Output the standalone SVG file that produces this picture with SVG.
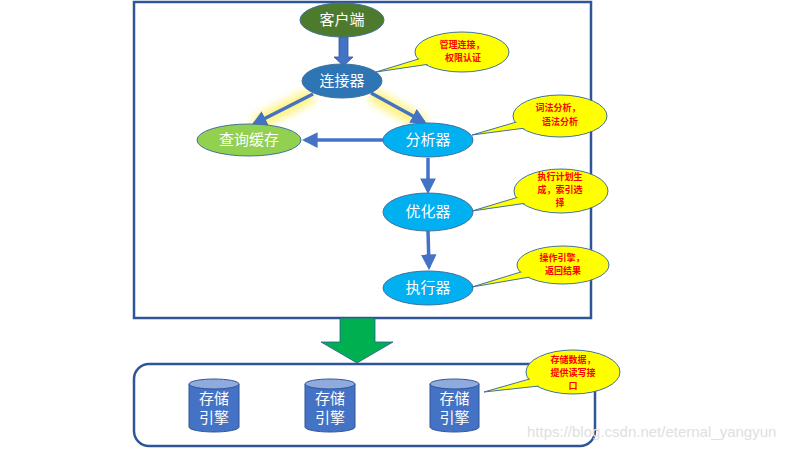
<svg xmlns="http://www.w3.org/2000/svg" width="800" height="450" viewBox="0 0 800 450">
<defs>
<style>
.node{stroke:#41719C;stroke-width:1}
.nt{font-family:"Noto Sans CJK SC","Noto Sans",sans-serif;font-size:15px;fill:#fff;text-anchor:middle}
.ct{font-family:"Noto Sans CJK SC","Noto Sans",sans-serif;font-size:9px;font-weight:bold;fill:#FF0000;text-anchor:middle}
.co{fill:#FFFF00;stroke:#41719C;stroke-width:1}
.cof{fill:#FFFF00}
.arr{stroke:#4472C4;stroke-width:3.5;fill:none;marker-end:url(#ah)}
</style>
<marker id="ah" viewBox="0 0 10 10" refX="8" refY="5" markerWidth="4.5" markerHeight="4.5" orient="auto" markerUnits="strokeWidth">
<path d="M0,0 L10,5 L0,10 Z" fill="#4472C4"/>
</marker>
<filter id="blur" x="-50%" y="-50%" width="200%" height="200%"><feGaussianBlur stdDeviation="4"/></filter>
<filter id="blur2" x="-50%" y="-100%" width="200%" height="300%"><feGaussianBlur stdDeviation="3"/></filter>
</defs>
<rect x="0" y="0" width="800" height="450" fill="#fff"/>
<rect x="134" y="2" width="457" height="316" fill="none" stroke="#2F5597" stroke-width="2.5"/>
<rect x="134" y="364" width="461" height="82" rx="15" fill="none" stroke="#2F5597" stroke-width="2.5"/>
<g id="connectors">
<line x1="312" y1="95" x2="255" y2="124" stroke="#FFF27A" stroke-width="14" filter="url(#blur)"/>
<line x1="372" y1="95" x2="424" y2="124" stroke="#FFF27A" stroke-width="14" filter="url(#blur)"/>
<line x1="384" y1="140" x2="302" y2="140" stroke="#A9D2F7" stroke-width="18" filter="url(#blur2)"/>
<path d="M339,37 H348 V57 H353 L343.5,66 L334,57 H339 Z" fill="#4472C4" stroke="#2F5597" stroke-width="0.8"/>
<line class="arr" x1="313" y1="94" x2="254" y2="124"/>
<line class="arr" x1="371" y1="93" x2="424" y2="122"/>
<line class="arr" x1="383" y1="140" x2="305" y2="140"/>
<line class="arr" x1="428" y1="158" x2="428" y2="191"/>
<line class="arr" x1="428" y1="231" x2="429" y2="267"/>
<path d="M340,318 H375 V342 H393 L357,363 L321,342 H340 Z" fill="#00B050" stroke="#2F5597" stroke-width="0.8"/>
</g>
<g id="client"><ellipse class="node" cx="342" cy="20" rx="42" ry="17" fill="#4E7A2E"/><text class="nt" x="342" y="25">客户端</text></g>
<g id="connector"><ellipse class="node" cx="342" cy="81" rx="40" ry="17" fill="#2E75B6"/><text class="nt" x="342" y="86">连接器</text></g>
<g id="cache"><ellipse class="node" cx="249" cy="140" rx="52" ry="16" fill="#92D050"/><text class="nt" x="249" y="145">查询缓存</text></g>
<g id="analyzer"><ellipse class="node" cx="428" cy="140" rx="45" ry="17" fill="#00B0F0"/><text class="nt" x="428" y="145">分析器</text></g>
<g id="optimizer"><ellipse class="node" cx="428" cy="212" rx="45" ry="19" fill="#00B0F0"/><text class="nt" x="428" y="217">优化器</text></g>
<g id="executor"><ellipse class="node" cx="428" cy="288" rx="45" ry="17" fill="#00B0F0"/><text class="nt" x="428" y="293">执行器</text></g>
<g id="engine1"><path d="M189,384 V427 A25,5 0 0 0 239,427 V384 Z" fill="#4472C4" stroke="#2F5597"/><ellipse cx="214" cy="384" rx="25" ry="5" fill="#8FAADC" stroke="#2F5597"/><text class="nt" x="214" y="404">存储</text><text class="nt" x="214" y="423">引擎</text></g>
<g id="engine2"><path d="M305,384 V427 A25,5 0 0 0 355,427 V384 Z" fill="#4472C4" stroke="#2F5597"/><ellipse cx="330" cy="384" rx="25" ry="5" fill="#8FAADC" stroke="#2F5597"/><text class="nt" x="330" y="404">存储</text><text class="nt" x="330" y="423">引擎</text></g>
<g id="engine3"><path d="M430,384 V427 A24.5,5 0 0 0 479,427 V384 Z" fill="#4472C4" stroke="#2F5597"/><ellipse cx="454.5" cy="384" rx="24.5" ry="5" fill="#8FAADC" stroke="#2F5597"/><text class="nt" x="454.5" y="404">存储</text><text class="nt" x="454.5" y="423">引擎</text></g>
<g id="callout1"><ellipse class="co" cx="462" cy="52" rx="47" ry="20"/><polygon class="co" points="425,57 376,72 430,64"/><ellipse class="cof" cx="462" cy="52" rx="46" ry="19"/><text class="ct" x="462" y="48">管理连接，</text><text class="ct" x="463" y="61">权限认证</text></g>
<g id="callout2"><ellipse class="co" cx="560" cy="116" rx="47" ry="21"/><polygon class="co" points="520,121 472,135 525,128"/><ellipse class="cof" cx="560" cy="116" rx="46" ry="20"/><text class="ct" x="558" y="111">词法分析，</text><text class="ct" x="560" y="125">语法分析</text></g>
<g id="callout3"><ellipse class="co" cx="561" cy="191" rx="47" ry="22"/><polygon class="co" points="522,196 472,211 527,203"/><ellipse class="cof" cx="561" cy="191" rx="46" ry="21"/><text class="ct" x="560" y="180">执行计划生</text><text class="ct" x="560" y="193">成，索引选</text><text class="ct" x="560" y="206">择</text></g>
<g id="callout4"><ellipse class="co" cx="563" cy="265" rx="46" ry="19"/><polygon class="co" points="524,271 472,287 530,277"/><ellipse class="cof" cx="563" cy="265" rx="45" ry="18"/><text class="ct" x="562" y="261">操作引擎，</text><text class="ct" x="563" y="274">返回结果</text></g>
<g id="callout5"><ellipse class="co" cx="573" cy="372" rx="47" ry="22"/><polygon class="co" points="533,378 484,392 539,386"/><ellipse class="cof" cx="573" cy="372" rx="46" ry="21"/><text class="ct" x="573" y="363">存储数据，</text><text class="ct" x="573" y="376">提供读写接</text><text class="ct" x="573" y="389">口</text></g>
<text x="527" y="437" font-family="Liberation Sans, Arial, sans-serif" font-size="15" fill="#E0E0E0">https://blog.csdn.net/eternal_yangyun</text>
</svg>
